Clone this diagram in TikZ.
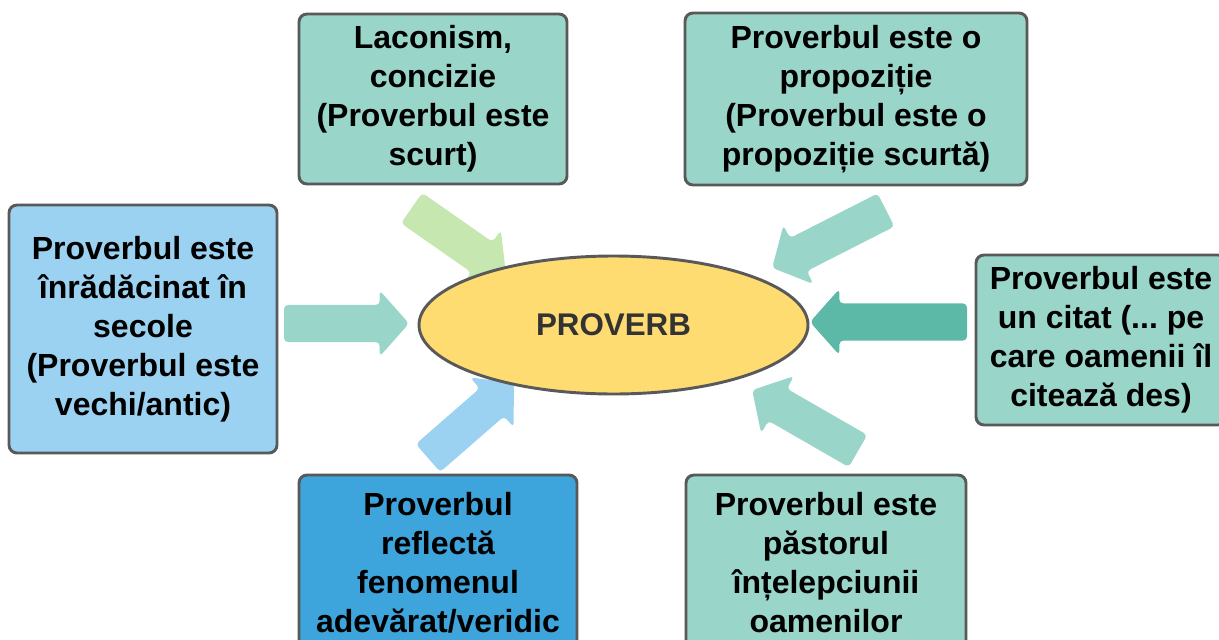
\documentclass[tikz,border=0pt]{standalone}
\usepackage{fontspec}
\setmainfont{Liberation Sans}
\usetikzlibrary{shapes.geometric}
\frenchspacing

\definecolor{tealbox}{HTML}{99D5C9}
\definecolor{skyblue}{HTML}{9CD2F1}
\definecolor{deepblue}{HTML}{3DA4DC}
\definecolor{sun}{HTML}{FEDC72}
\definecolor{leaf}{HTML}{C6E7B0}
\definecolor{darkteal}{HTML}{5CB8A7}
\definecolor{edgegray}{HTML}{595959}
\definecolor{inkgray}{HTML}{333333}

\tikzset{
  card/.style={draw=edgegray, line width=2.2pt, rounded corners=6pt,
    align=center, inner sep=0pt, text=black,
    font=\bfseries\fontsize{24}{29.25}\selectfont},
  hubstyle/.style={ellipse, draw=edgegray, line width=2.2pt, fill=sun,
    inner sep=0pt, text=inkgray, font=\bfseries\fontsize{23.5}{28}\selectfont},
}

% broad block arrow from a tail coordinate to a tip coordinate
\newcommand\fatarrow[3]{%
  \path (#2); \pgfgetlastxy{\fax}{\fay}%
  \path (#3); \pgfgetlastxy{\fbx}{\fby}%
  \pgfmathsetmacro\faang{atan2((\fby)-(\fay),(\fbx)-(\fax))}%
  \pgfmathsetmacro\falen{veclen((\fbx)-(\fax),(\fby)-(\fay))}%
  \fill[#1, rounded corners=3pt, shift={(#2)}, rotate=\faang]
    (0pt,-13.9pt) -- (\falen pt-22pt,-13.9pt) -- (\falen pt-22pt,-24.75pt)
    -- (\falen pt,0pt) -- (\falen pt-22pt,24.75pt) -- (\falen pt-22pt,13.9pt)
    -- (0pt,13.9pt) -- cycle;
}

\begin{document}
\begin{tikzpicture}[x=0.75pt,y=-0.75pt]
\useasboundingbox (0,0) rectangle (1219,639);
\clip (0,0) rectangle (1219,639);

% surrounding cards
\node[card, fill=tealbox, minimum width=268*0.75pt, minimum height=170*0.75pt]
  (laconism) at (433,99) {Laconism,\\concizie\\(Proverbul este\\scurt)};
\node[card, fill=tealbox, minimum width=342*0.75pt, minimum height=172*0.75pt]
  (sentence) at (856,99) {Proverbul este o\\propoziție\\(Proverbul este o\\propoziție scurtă)};
\node[card, fill=skyblue, minimum width=268*0.75pt, minimum height=248*0.75pt]
  (roots) at (143,329) {Proverbul este\\înrădăcinat în\\secole\\(Proverbul este\\vechi/antic)};
\node[card, fill=tealbox, minimum width=250*0.75pt, minimum height=170*0.75pt]
  (quote) at (1101,340) {Proverbul este\\un citat (... pe\\care oamenii îl\\citează des)};
\node[card, fill=deepblue, minimum width=278*0.75pt, minimum height=175*0.75pt]
  (truth) at (438,562.5) {Proverbul\\reflectă\\fenomenul\\adevărat/veridic};
\node[card, fill=tealbox, minimum width=280*0.75pt, minimum height=175*0.75pt]
  (shepherd) at (826,562.5) {Proverbul este\\păstorul\\înțelepciunii\\oamenilor};

% arrow ends
\coordinate (laconismTail) at (411.6,208);  \coordinate (laconismTip) at (506,274);
\coordinate (sentenceTail) at (886,210);    \coordinate (sentenceTip) at (772,268);
\coordinate (rootsTail)    at (284,323.5);  \coordinate (rootsTip)    at (409,323.5);
\coordinate (quoteTail)    at (967,322);    \coordinate (quoteTip)    at (810,322);
\coordinate (truthTail)    at (428,458);    \coordinate (truthTip)    at (514,383);
\coordinate (shepherdTail) at (858,451);    \coordinate (shepherdTip) at (752,390);

\fatarrow{leaf}{laconismTail}{laconismTip}
\fatarrow{tealbox}{sentenceTail}{sentenceTip}
\fatarrow{tealbox}{rootsTail}{rootsTip}
\fatarrow{darkteal}{quoteTail}{quoteTip}
\fatarrow{skyblue}{truthTail}{truthTip}
\fatarrow{tealbox}{shepherdTail}{shepherdTip}

% central ellipse
\node[hubstyle, minimum width=389*0.75pt, minimum height=138*0.75pt]
  (hub) at (613.5,325) {PROVERB};
\end{tikzpicture}
\end{document}
